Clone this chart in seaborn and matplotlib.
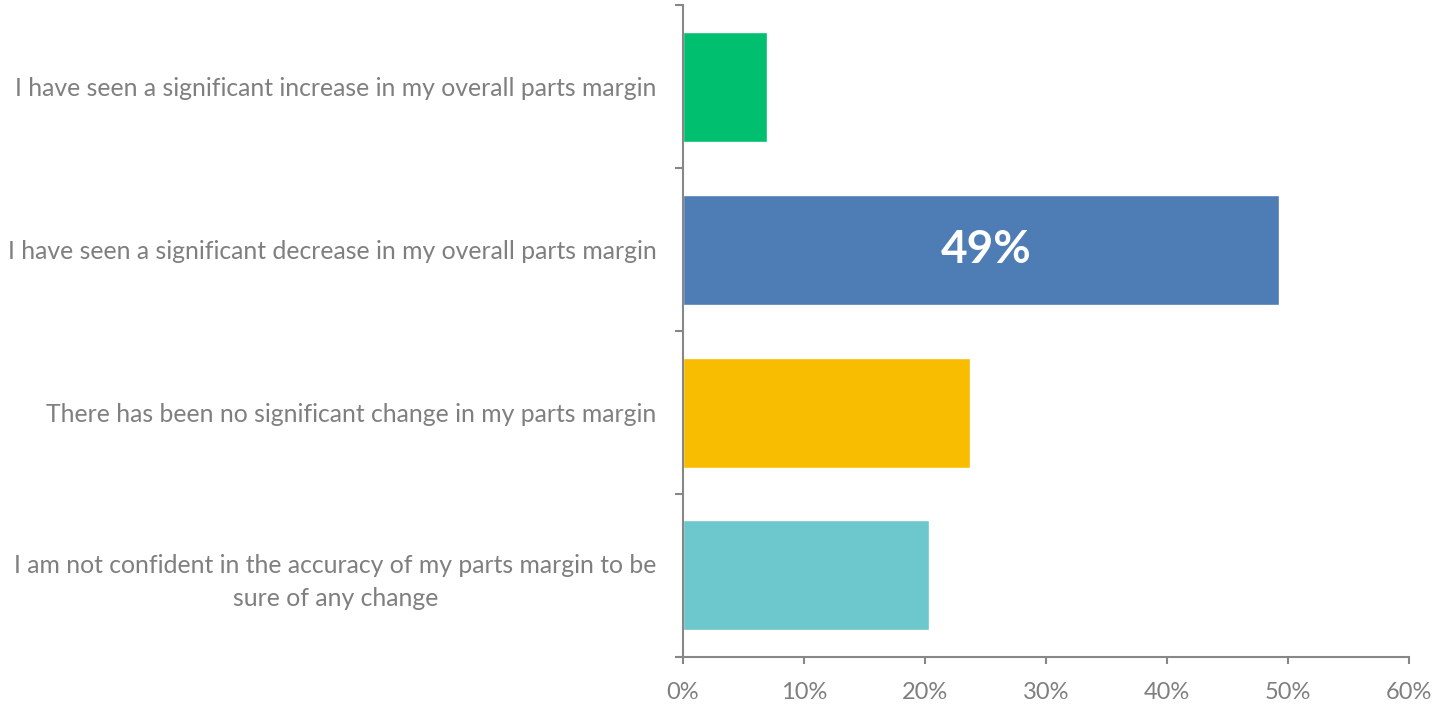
import matplotlib
matplotlib.use("Agg")
import matplotlib.pyplot as plt
import seaborn as sns
import numpy as np
from matplotlib.ticker import FixedLocator, PercentFormatter

# --- Data ---
categories = [
    "I have seen a significant increase in my overall parts margin",
    "I have seen a significant decrease in my overall parts margin",
    "There has been no significant change in my parts margin",
    "I am not confident in the accuracy of my parts margin to be\nsure of any change",
]
shares = [6.9, 49.2, 23.7, 20.3]
bar_colors = ["#00BF6F", "#4E7CB5", "#F8BC00", "#6CC8CC"]
highlight_label = "49%"

sns.set_style("white")
plt.rcParams["font.family"] = ["Lato", "DejaVu Sans"]

grey = "#7F7F7F"
axis_grey = "#878787"

fig = plt.figure(figsize=(14.41, 7.04), dpi=100)
ax = fig.add_axes([0.474, 0.0668, 0.504, 0.926])

sns.barplot(
    x=shares,
    y=categories,
    hue=categories,
    palette=bar_colors,
    legend=False,
    orient="h",
    width=0.675,
    saturation=1,
    ax=ax,
)

# big label inside the highlighted bar
ax.text(shares[1] / 2 + 0.4, 1, highlight_label, color="white", fontsize=33,
        fontweight="bold", ha="center", va="center")

ax.set_xlim(0, 60)
ax.set_ylim(3.5, -0.5)
ax.set_xticks(np.arange(0, 61, 10))
ax.xaxis.set_major_formatter(PercentFormatter(decimals=0))
ax.set_xlabel("")
ax.set_ylabel("")

# Excel-style: y ticks between categories
ax.yaxis.set_minor_locator(FixedLocator([-0.5, 0.5, 1.5, 2.5, 3.5]))
ax.tick_params(axis="y", which="major", length=0, pad=19, labelsize=17.8, labelcolor=grey)
ax.tick_params(axis="y", which="minor", left=True, length=6, width=1.5, color=axis_grey, direction="out")
for lbl in ax.get_yticklabels():
    lbl.set_multialignment("center")
    lbl.set_linespacing(1.5)
ax.tick_params(axis="x", bottom=True, length=5, width=1.5, color=axis_grey, direction="out",
               pad=13, labelsize=17, labelcolor=grey)

sns.despine(ax=ax, top=True, right=True)
for side in ["left", "bottom"]:
    ax.spines[side].set_color(axis_grey)
    ax.spines[side].set_linewidth(1.5)

fig.savefig("out.png", dpi=100)
